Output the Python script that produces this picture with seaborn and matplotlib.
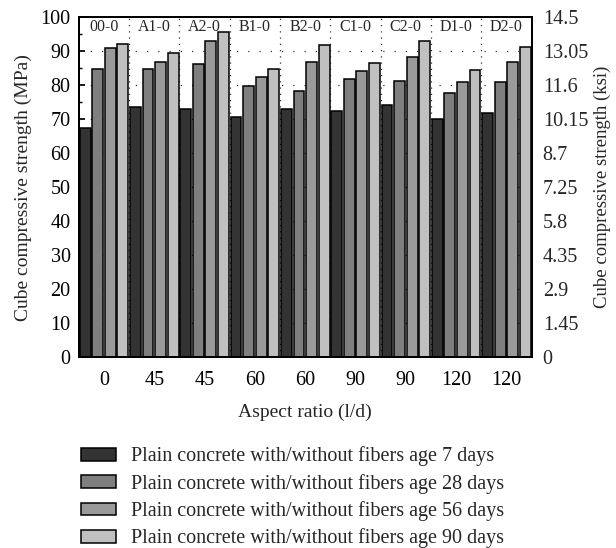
import matplotlib
matplotlib.use("Agg")
import matplotlib.pyplot as plt
from matplotlib.ticker import MultipleLocator
import seaborn as sns
import pandas as pd

# Mix designations and their fiber aspect ratios
mixes = ["00-0", "A1-0", "A2-0", "B1-0", "B2-0", "C1-0", "C2-0", "D1-0", "D2-0"]
aspect_ratios = ["0", "45", "45", "60", "60", "90", "90", "120", "120"]

# Cube compressive strength (MPa) by curing age
strength_7d = [67.3, 73.5, 73.1, 70.7, 73.0, 72.5, 74.1, 70.1, 71.8]
strength_28d = [84.6, 84.6, 86.3, 79.8, 78.3, 81.7, 81.3, 77.8, 80.9]
strength_56d = [90.9, 86.7, 93.0, 82.4, 86.9, 84.1, 88.3, 81.0, 86.8]
strength_90d = [92.1, 89.3, 95.6, 84.6, 91.8, 86.6, 92.8, 84.5, 91.1]

ages = [
    "Plain concrete with/without fibers age 7 days",
    "Plain concrete with/without fibers age 28 days",
    "Plain concrete with/without fibers age 56 days",
    "Plain concrete with/without fibers age 90 days",
]
colors = ["#333333", "#7f7f7f", "#9a9a9a", "#c0c0c0"]

ksi_ticks = ["0", "1.45", "2.9", "4.35", "5.8", "7.25", "8.7", "10.15", "11.6", "13.05", "14.5"]

rows = []
for age, vals in zip(ages, [strength_7d, strength_28d, strength_56d, strength_90d]):
    for m, v in zip(mixes, vals):
        rows.append({"mix": m, "age": age, "strength": v})
df = pd.DataFrame(rows)

sns.set_theme(style="ticks")
plt.rcParams["font.family"] = ["Liberation Serif", "DejaVu Serif"]

fig = plt.figure(figsize=(6.16, 5.48), dpi=100)
ax = fig.add_axes([0.128, 0.348, 0.735, 0.621])

sns.barplot(data=df, x="mix", y="strength", hue="age", order=mixes, hue_order=ages,
            palette=colors, width=1.0, gap=0.14, edgecolor="black", linewidth=1.1,
            errorbar=None, ax=ax, zorder=3)

ax.set_xlim(-0.5, len(mixes) - 0.5)
ax.set_ylim(0, 100)
ax.yaxis.set_major_locator(MultipleLocator(10))
ax.yaxis.set_minor_locator(MultipleLocator(5))
ax.set_xticks(range(len(mixes)))
ax.set_xticklabels(aspect_ratios)
ax.tick_params(axis="both", which="both", direction="in", labelsize=14.5, colors="black")
ax.tick_params(axis="x", length=0, pad=10)
ax.tick_params(axis="y", which="major", length=4, pad=6)
ax.tick_params(axis="y", which="minor", length=2.5)

# dotted grid: horizontal at each 10 MPa, vertical between mixes
for yv in range(10, 100, 10):
    ax.axhline(yv, color="#333333", linestyle=(0, (1, 8)), linewidth=0.9, zorder=1)
for xv in range(1, len(mixes)):
    ax.axvline(xv - 0.5, color="#333333", linestyle=(0, (1, 4)), linewidth=0.9, zorder=1)

for i, m in enumerate(mixes):
    ax.text(i, 97.0, m, ha="center", va="center", fontsize=11.5, zorder=5)

for sp in ax.spines.values():
    sp.set_linewidth(1.4)
    sp.set_color("black")

ax.set_xlabel("Aspect ratio (l/d)", fontsize=14, labelpad=10)
ax.set_ylabel("Cube compressive strength (MPa)", fontsize=14, labelpad=6)

ax2 = ax.twinx()
ax2.set_ylim(0, 14.5)
ax2.set_yticks([i * 1.45 for i in range(len(ksi_ticks))])
ax2.set_yticklabels(ksi_ticks)
ax2.tick_params(axis="y", direction="in", length=0, labelsize=14.5, pad=8)
ax2.set_ylabel("Cube compressive strength (ksi)", fontsize=13.5, labelpad=4)
for sp in ax2.spines.values():
    sp.set_linewidth(1.4)
    sp.set_color("black")

handles, labels = ax.get_legend_handles_labels()
ax.get_legend().remove()
fig.legend(handles, labels, loc="upper left", bbox_to_anchor=(0.118, 0.200),
           frameon=False, fontsize=14.5, handlelength=1.75, handleheight=0.6,
           labelspacing=0.37, handletextpad=0.75, borderaxespad=0)

fig.savefig("out.png", dpi=100)
